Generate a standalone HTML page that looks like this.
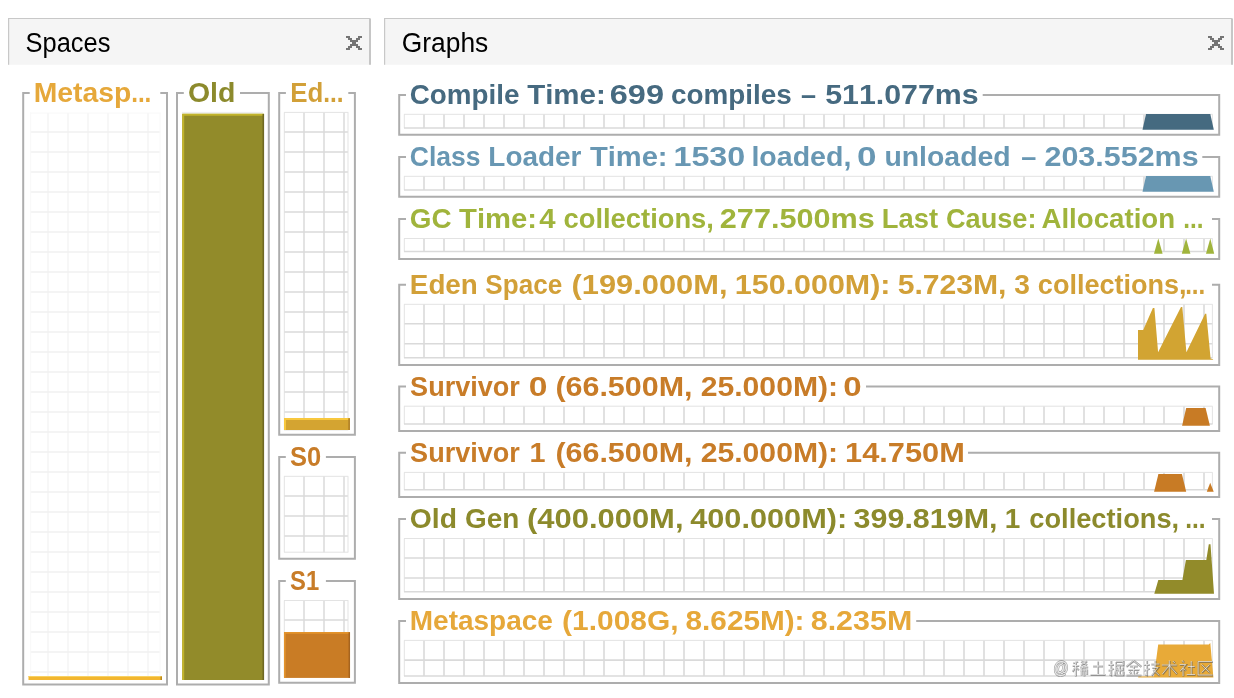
<!DOCTYPE html>
<html><head><meta charset="utf-8"><title>Visual GC</title>
<style>
html,body{margin:0;padding:0;background:#fff;}
body{width:1234px;height:698px;overflow:hidden;font-family:"Liberation Sans",sans-serif;}
svg{display:block;position:absolute;left:0;top:0;will-change:transform;}
svg text{font-family:"Liberation Sans",sans-serif;font-kerning:none;}
</style></head><body>
<svg width="1234" height="698" viewBox="0 0 1234 698">
<rect x="8" y="18" width="363" height="46.8" fill="#f5f5f5"/><path d="M8.6 64.8V18.5H370.5" stroke="#c8c8c8" stroke-width="1.2" fill="none"/><path d="M370 19V64.8" stroke="#c6c6c6" stroke-width="2" fill="none"/><text transform="translate(25.54 51.6) scale(0.9253 1)" fill="#000" font-size="27.5" font-weight="normal">Spaces</text><path d="M346 36h4v2h-4zM358 36h4v2h-4zM348 38h4v2h-4zM356 38h4v2h-4zM350 40h8v2h-8zM352 42h4v2h-4zM350 44h8v2h-8zM348 46h4v2h-4zM356 46h4v2h-4zM346 48h4v2h-4zM358 48h4v2h-4z" fill="#757575" shape-rendering="crispEdges"/>
<rect x="384" y="18" width="849" height="46.8" fill="#f5f5f5"/><path d="M384.6 64.8V18.5H1232.5" stroke="#c8c8c8" stroke-width="1.2" fill="none"/><path d="M1232 19V64.8" stroke="#c6c6c6" stroke-width="2" fill="none"/><text transform="translate(401.77 51.6) scale(0.9590 1)" fill="#000" font-size="27.5" font-weight="normal">Graphs</text><path d="M1208 36h4v2h-4zM1220 36h4v2h-4zM1210 38h4v2h-4zM1218 38h4v2h-4zM1212 40h8v2h-8zM1214 42h4v2h-4zM1212 44h8v2h-8zM1210 46h4v2h-4zM1218 46h4v2h-4zM1208 48h4v2h-4zM1220 48h4v2h-4z" fill="#757575" shape-rendering="crispEdges"/>
<path d="M29.7 93H23.2V684.5H167V93H160.3" stroke="#adadad" stroke-width="2" fill="none"/>
<text transform="translate(33.7 101.7) scale(1.0307 1)" fill="#e6a83a" font-size="27.5" font-weight="bold">Metasp</text>
<text transform="translate(131.15 101.7) scale(0.8820 1)" fill="#e6a83a" font-size="27.5" font-weight="bold">...</text>
<path d="M48 113V676M68 113V676M88 113V676M108 113V676M128 113V676M148 113V676" stroke="#f5f5f5" stroke-width="1.5" fill="none"/>
<path d="M30.5 132H160.3M30.5 152H160.3M30.5 172H160.3M30.5 192H160.3M30.5 212H160.3M30.5 232H160.3M30.5 252H160.3M30.5 272H160.3M30.5 292H160.3M30.5 312H160.3M30.5 332H160.3M30.5 352H160.3M30.5 372H160.3M30.5 392H160.3M30.5 412H160.3M30.5 432H160.3M30.5 452H160.3M30.5 472H160.3M30.5 492H160.3M30.5 512H160.3M30.5 532H160.3M30.5 552H160.3M30.5 572H160.3M30.5 592H160.3M30.5 612H160.3M30.5 632H160.3M30.5 652H160.3M30.5 672H160.3" stroke="#f1f1f1" stroke-width="1.5" fill="none"/>
<path d="M30.7 112.5V676M160 112.5V676M30.2 113H160.5" stroke="#f8f8f8" stroke-width="1" fill="none"/>
<rect x="28.5" y="676" width="133.5" height="4" fill="#f2b62f"/>
<rect x="28.5" y="676" width="133.5" height="1" fill="#f8d060"/>
<rect x="160.5" y="676.5" width="1.5" height="3.5" fill="#b98a20"/>
<path d="M183.8 93H177V684.5H268.8V93H240" stroke="#adadad" stroke-width="2" fill="none"/>
<text transform="translate(187.93 101.7) scale(1.0353 1)" fill="#8c8a2c" font-size="27.5" font-weight="bold">Old</text>
<path d="M182 112.4H263" stroke="#ececec" stroke-width="1" fill="none"/>
<rect x="182.3" y="113.8" width="81.7" height="566.2" fill="#928b2a"/>
<path d="M183.2 680V114.8H264" stroke="#c2b42c" stroke-width="2" fill="none"/>
<path d="M263.3 114V680" stroke="#6e6822" stroke-width="1.6" fill="none"/>
<path d="M285.9 93H279.2V434.8H354.9V93H348.3" stroke="#adadad" stroke-width="2" fill="none"/>
<text transform="translate(290.17 101.7) scale(0.9400 1)" fill="#d2a038" font-size="27.5" font-weight="bold">Ed</text>
<text transform="translate(323.14 101.7) scale(0.8872 1)" fill="#d2a038" font-size="27.5" font-weight="bold">...</text>
<path d="M304 112.4V430M324 112.4V430M344 112.4V430M284 132H348M284 152H348M284 172H348M284 192H348M284 212H348M284 232H348M284 252H348M284 272H348M284 292H348M284 312H348M284 332H348M284 352H348M284 372H348M284 392H348M284 412H348" stroke="#dadada" stroke-width="1.5" fill="none"/><path d="M284.3 112.4V430M348 112.4V430M284 112.4H348.3M284 430H348.3" stroke="#e3e3e3" stroke-width="1" fill="none"/>
<rect x="284" y="418" width="66" height="12" fill="#d4a431"/>
<path d="M285 430V419H350" stroke="#f8c83e" stroke-width="2" fill="none"/>
<path d="M349.1 418.3V430" stroke="#b5852a" stroke-width="1.8" fill="none"/>
<path d="M285.8 456.9H279.2V558.8H354.9V456.9H325.9" stroke="#adadad" stroke-width="2" fill="none"/>
<text transform="translate(289.97 466) scale(0.9270 1)" fill="#c87c28" font-size="27.5" font-weight="bold">S0</text>
<path d="M304 476.3V552.2M324 476.3V552.2M344 476.3V552.2M284 496H348M284 516H348M284 536H348" stroke="#dadada" stroke-width="1.5" fill="none"/><path d="M284.3 476.3V552.2M348 476.3V552.2M284 476.3H348.3M284 552.2H348.3" stroke="#e3e3e3" stroke-width="1" fill="none"/>
<path d="M285.8 581H279.2V682.8H354.9V581H325.9" stroke="#adadad" stroke-width="2" fill="none"/>
<text transform="translate(290.01 590) scale(0.8666 1)" fill="#c87c28" font-size="27.5" font-weight="bold">S1</text>
<path d="M304 600.5V677M324 600.5V677M344 600.5V677M284 620H348" stroke="#dadada" stroke-width="1.5" fill="none"/><path d="M284.3 600.5V677M348 600.5V677M284 600.5H348.3M284 677H348.3" stroke="#e3e3e3" stroke-width="1" fill="none"/>
<rect x="284" y="632" width="66" height="45.9" fill="#c97c25"/>
<path d="M284.8 677.9V632.8H350" stroke="#e3932b" stroke-width="1.7" fill="none"/>
<path d="M349.3 632.3V677.9" stroke="#a5641f" stroke-width="1.5" fill="none"/>
<path d="M406 95H399.2V134.8H1219.2V95H982.7" stroke="#adadad" stroke-width="2" fill="none"/>
<text transform="translate(409.76 103.9) scale(1.0111 1)" fill="#466a80" font-size="27.5" font-weight="bold">Compile</text>
<text transform="translate(527.17 103.9) scale(1.0726 1)" fill="#466a80" font-size="27.5" font-weight="bold">Time:</text>
<text transform="translate(609.81 103.9) scale(1.1812 1)" fill="#466a80" font-size="27.5" font-weight="bold">699</text>
<text transform="translate(671.01 103.9) scale(1.0136 1)" fill="#466a80" font-size="27.5" font-weight="bold">compiles</text>
<text transform="translate(800.88 103.9) scale(0.9842 1)" fill="#466a80" font-size="27.5" font-weight="bold">–</text>
<text transform="translate(825.17 103.9) scale(1.1037 1)" fill="#466a80" font-size="27.5" font-weight="bold">511.077ms</text>
<path d="M424 114.3V128M444 114.3V128M464 114.3V128M484 114.3V128M504 114.3V128M524 114.3V128M544 114.3V128M564 114.3V128M584 114.3V128M604 114.3V128M624 114.3V128M644 114.3V128M664 114.3V128M684 114.3V128M704 114.3V128M724 114.3V128M744 114.3V128M764 114.3V128M784 114.3V128M804 114.3V128M824 114.3V128M844 114.3V128M864 114.3V128M884 114.3V128M904 114.3V128M924 114.3V128M944 114.3V128M964 114.3V128M984 114.3V128M1004 114.3V128M1024 114.3V128M1044 114.3V128M1064 114.3V128M1084 114.3V128M1104 114.3V128M1124 114.3V128M1144 114.3V128M1164 114.3V128M1184 114.3V128M1204 114.3V128" stroke="#dadada" stroke-width="1.6" fill="none"/>
<path d="M404.3 114.3V128M1212.4 114.3V128M404 114.3H1212.6" stroke="#e3e3e3" stroke-width="1" fill="none"/>
<path d="M404 128H1212.6" stroke="#dadada" stroke-width="1.5" fill="none"/>
<polygon points="1142.5,129.7 1146,114 1210.3,114 1213.8,129.7" fill="#456a80"/>
<path d="M406 156.9H399.2V196.8H1219.2V156.9H1202.3" stroke="#adadad" stroke-width="2" fill="none"/>
<text transform="translate(409.81 165.8) scale(0.9645 1)" fill="#6897b3" font-size="27.5" font-weight="bold">Class</text>
<text transform="translate(488.33 165.8) scale(1.0153 1)" fill="#6897b3" font-size="27.5" font-weight="bold">Loader</text>
<text transform="translate(589.97 165.8) scale(1.0584 1)" fill="#6897b3" font-size="27.5" font-weight="bold">Time:</text>
<text transform="translate(673.47 165.8) scale(1.1729 1)" fill="#6897b3" font-size="27.5" font-weight="bold">1530</text>
<text transform="translate(751.41 165.8) scale(1.0389 1)" fill="#6897b3" font-size="27.5" font-weight="bold">loaded,</text>
<text transform="translate(857.11 165.8) scale(1.2769 1)" fill="#6897b3" font-size="27.5" font-weight="bold">0</text>
<text transform="translate(884.44 165.8) scale(1.0328 1)" fill="#6897b3" font-size="27.5" font-weight="bold">unloaded</text>
<text transform="translate(1021.28 165.8) scale(0.9842 1)" fill="#6897b3" font-size="27.5" font-weight="bold">–</text>
<text transform="translate(1044.44 165.8) scale(1.1089 1)" fill="#6897b3" font-size="27.5" font-weight="bold">203.552ms</text>
<path d="M424 176.3V189.9M444 176.3V189.9M464 176.3V189.9M484 176.3V189.9M504 176.3V189.9M524 176.3V189.9M544 176.3V189.9M564 176.3V189.9M584 176.3V189.9M604 176.3V189.9M624 176.3V189.9M644 176.3V189.9M664 176.3V189.9M684 176.3V189.9M704 176.3V189.9M724 176.3V189.9M744 176.3V189.9M764 176.3V189.9M784 176.3V189.9M804 176.3V189.9M824 176.3V189.9M844 176.3V189.9M864 176.3V189.9M884 176.3V189.9M904 176.3V189.9M924 176.3V189.9M944 176.3V189.9M964 176.3V189.9M984 176.3V189.9M1004 176.3V189.9M1024 176.3V189.9M1044 176.3V189.9M1064 176.3V189.9M1084 176.3V189.9M1104 176.3V189.9M1124 176.3V189.9M1144 176.3V189.9M1164 176.3V189.9M1184 176.3V189.9M1204 176.3V189.9" stroke="#dadada" stroke-width="1.6" fill="none"/>
<path d="M404.3 176.3V189.9M1212.4 176.3V189.9M404 176.3H1212.6" stroke="#e3e3e3" stroke-width="1" fill="none"/>
<path d="M404 189.9H1212.6" stroke="#dadada" stroke-width="1.5" fill="none"/>
<polygon points="1142.5,191.7 1146,176 1210.3,176 1213.8,191.7" fill="#6897b2"/>
<path d="M406 219.1H399.2V258.9H1219.2V219.1H1212" stroke="#adadad" stroke-width="2" fill="none"/>
<text transform="translate(409.76 228) scale(1.0135 1)" fill="#a0b43c" font-size="27.5" font-weight="bold">GC</text>
<text transform="translate(459.07 228) scale(1.0627 1)" fill="#a0b43c" font-size="27.5" font-weight="bold">Time:</text>
<text transform="translate(539.16 228) scale(1.0658 1)" fill="#a0b43c" font-size="27.5" font-weight="bold">4</text>
<text transform="translate(563.53 228) scale(0.9948 1)" fill="#a0b43c" font-size="27.5" font-weight="bold">collections,</text>
<text transform="translate(719.84 228) scale(1.1140 1)" fill="#a0b43c" font-size="27.5" font-weight="bold">277.500ms</text>
<text transform="translate(881.77 228) scale(0.9951 1)" fill="#a0b43c" font-size="27.5" font-weight="bold">Last</text>
<text transform="translate(945.99 228) scale(0.9872 1)" fill="#a0b43c" font-size="27.5" font-weight="bold">Cause:</text>
<text transform="translate(1041.41 228) scale(1.0067 1)" fill="#a0b43c" font-size="27.5" font-weight="bold">Allocation</text>
<text transform="translate(1183.25 228) scale(0.8820 1)" fill="#a0b43c" font-size="27.5" font-weight="bold">...</text>
<path d="M424 238.5V251.6M444 238.5V251.6M464 238.5V251.6M484 238.5V251.6M504 238.5V251.6M524 238.5V251.6M544 238.5V251.6M564 238.5V251.6M584 238.5V251.6M604 238.5V251.6M624 238.5V251.6M644 238.5V251.6M664 238.5V251.6M684 238.5V251.6M704 238.5V251.6M724 238.5V251.6M744 238.5V251.6M764 238.5V251.6M784 238.5V251.6M804 238.5V251.6M824 238.5V251.6M844 238.5V251.6M864 238.5V251.6M884 238.5V251.6M904 238.5V251.6M924 238.5V251.6M944 238.5V251.6M964 238.5V251.6M984 238.5V251.6M1004 238.5V251.6M1024 238.5V251.6M1044 238.5V251.6M1064 238.5V251.6M1084 238.5V251.6M1104 238.5V251.6M1124 238.5V251.6M1144 238.5V251.6M1164 238.5V251.6M1184 238.5V251.6M1204 238.5V251.6" stroke="#dadada" stroke-width="1.6" fill="none"/>
<path d="M404.3 238.5V251.6M1212.4 238.5V251.6M404 238.5H1212.6" stroke="#e3e3e3" stroke-width="1" fill="none"/>
<path d="M404 251.6H1212.6" stroke="#dadada" stroke-width="1.5" fill="none"/>
<polygon points="1154,253.7 1158.3,238.4 1162.6,253.7" fill="#a0b43c"/>
<polygon points="1181.8,253.7 1186.1,238.4 1190.4,253.7" fill="#a0b43c"/>
<polygon points="1206,253.7 1210.3,238.4 1214.2,253.7" fill="#a0b43c"/>
<path d="M406 284.8H399.2V365H1219.2V284.8H1212" stroke="#adadad" stroke-width="2" fill="none"/>
<text transform="translate(409.84 293.7) scale(1.0112 1)" fill="#d2a038" font-size="27.5" font-weight="bold">Eden</text>
<text transform="translate(485.35 293.7) scale(0.9484 1)" fill="#d2a038" font-size="27.5" font-weight="bold">Space</text>
<text transform="translate(571.46 293.7) scale(1.1221 1)" fill="#d2a038" font-size="27.5" font-weight="bold">(199.000M,</text>
<text transform="translate(734.78 293.7) scale(1.1075 1)" fill="#d2a038" font-size="27.5" font-weight="bold">150.000M):</text>
<text transform="translate(897.67 293.7) scale(1.0954 1)" fill="#d2a038" font-size="27.5" font-weight="bold">5.723M,</text>
<text transform="translate(1014.35 293.7) scale(1.0242 1)" fill="#d2a038" font-size="27.5" font-weight="bold">3</text>
<text transform="translate(1037.84 293.7) scale(0.9840 1)" fill="#d2a038" font-size="27.5" font-weight="bold">collections,</text>
<text transform="translate(1185.16 293.7) scale(0.8768 1)" fill="#d2a038" font-size="27.5" font-weight="bold">...</text>
<path d="M424 304.3V357.7M444 304.3V357.7M464 304.3V357.7M484 304.3V357.7M504 304.3V357.7M524 304.3V357.7M544 304.3V357.7M564 304.3V357.7M584 304.3V357.7M604 304.3V357.7M624 304.3V357.7M644 304.3V357.7M664 304.3V357.7M684 304.3V357.7M704 304.3V357.7M724 304.3V357.7M744 304.3V357.7M764 304.3V357.7M784 304.3V357.7M804 304.3V357.7M824 304.3V357.7M844 304.3V357.7M864 304.3V357.7M884 304.3V357.7M904 304.3V357.7M924 304.3V357.7M944 304.3V357.7M964 304.3V357.7M984 304.3V357.7M1004 304.3V357.7M1024 304.3V357.7M1044 304.3V357.7M1064 304.3V357.7M1084 304.3V357.7M1104 304.3V357.7M1124 304.3V357.7M1144 304.3V357.7M1164 304.3V357.7M1184 304.3V357.7M1204 304.3V357.7M404 323.8H1212.5M404 343.8H1212.5" stroke="#dadada" stroke-width="1.6" fill="none"/>
<path d="M404.3 304.3V357.7M1212.4 304.3V357.7M404 304.3H1212.6" stroke="#e3e3e3" stroke-width="1" fill="none"/>
<path d="M404 357.7H1212.6" stroke="#dadada" stroke-width="1.5" fill="none"/>
<polygon points="1138,359.7 1138,330.05 1143.2,330.05 1152.9,308 1154.4,308 1158.1,352.2 1181,306.9 1182.3,306.9 1186.4,352.2 1205.1,313.8 1206.3,313.8 1210.6,358.6 1213.1,359.2 1213.1,359.7" fill="#d2a432"/>
<path d="M406 386.6H399.2V430.9H1219.2V386.6H866" stroke="#adadad" stroke-width="2" fill="none"/>
<text transform="translate(410.12 395.5) scale(0.9840 1)" fill="#c87c28" font-size="27.5" font-weight="bold">Survivor</text>
<text transform="translate(528.87 395.5) scale(1.2234 1)" fill="#c87c28" font-size="27.5" font-weight="bold">0</text>
<text transform="translate(555.38 395.5) scale(1.1077 1)" fill="#c87c28" font-size="27.5" font-weight="bold">(66.500M,</text>
<text transform="translate(700.65 395.5) scale(1.0975 1)" fill="#c87c28" font-size="27.5" font-weight="bold">25.000M):</text>
<text transform="translate(843.29 395.5) scale(1.2004 1)" fill="#c87c28" font-size="27.5" font-weight="bold">0</text>
<path d="M424 406.2V424M444 406.2V424M464 406.2V424M484 406.2V424M504 406.2V424M524 406.2V424M544 406.2V424M564 406.2V424M584 406.2V424M604 406.2V424M624 406.2V424M644 406.2V424M664 406.2V424M684 406.2V424M704 406.2V424M724 406.2V424M744 406.2V424M764 406.2V424M784 406.2V424M804 406.2V424M824 406.2V424M844 406.2V424M864 406.2V424M884 406.2V424M904 406.2V424M924 406.2V424M944 406.2V424M964 406.2V424M984 406.2V424M1004 406.2V424M1024 406.2V424M1044 406.2V424M1064 406.2V424M1084 406.2V424M1104 406.2V424M1124 406.2V424M1144 406.2V424M1164 406.2V424M1184 406.2V424M1204 406.2V424" stroke="#dadada" stroke-width="1.6" fill="none"/>
<path d="M404.3 406.2V424M1212.4 406.2V424M404 406.2H1212.6" stroke="#e3e3e3" stroke-width="1" fill="none"/>
<path d="M404 424H1212.6" stroke="#dadada" stroke-width="1.5" fill="none"/>
<polygon points="1182.1,425.8 1186.2,408 1205.6,408 1209.9,425.8" fill="#c87b25"/>
<path d="M406 452.7H399.2V497H1219.2V452.7H968" stroke="#adadad" stroke-width="2" fill="none"/>
<text transform="translate(410.12 461.6) scale(0.9840 1)" fill="#c87c28" font-size="27.5" font-weight="bold">Survivor</text>
<text transform="translate(529.39 461.6) scale(1.0472 1)" fill="#c87c28" font-size="27.5" font-weight="bold">1</text>
<text transform="translate(555.38 461.6) scale(1.1077 1)" fill="#c87c28" font-size="27.5" font-weight="bold">(66.500M,</text>
<text transform="translate(700.65 461.6) scale(1.0975 1)" fill="#c87c28" font-size="27.5" font-weight="bold">25.000M):</text>
<text transform="translate(845.06 461.6) scale(1.1194 1)" fill="#c87c28" font-size="27.5" font-weight="bold">14.750M</text>
<path d="M424 472.4V489.8M444 472.4V489.8M464 472.4V489.8M484 472.4V489.8M504 472.4V489.8M524 472.4V489.8M544 472.4V489.8M564 472.4V489.8M584 472.4V489.8M604 472.4V489.8M624 472.4V489.8M644 472.4V489.8M664 472.4V489.8M684 472.4V489.8M704 472.4V489.8M724 472.4V489.8M744 472.4V489.8M764 472.4V489.8M784 472.4V489.8M804 472.4V489.8M824 472.4V489.8M844 472.4V489.8M864 472.4V489.8M884 472.4V489.8M904 472.4V489.8M924 472.4V489.8M944 472.4V489.8M964 472.4V489.8M984 472.4V489.8M1004 472.4V489.8M1024 472.4V489.8M1044 472.4V489.8M1064 472.4V489.8M1084 472.4V489.8M1104 472.4V489.8M1124 472.4V489.8M1144 472.4V489.8M1164 472.4V489.8M1184 472.4V489.8M1204 472.4V489.8" stroke="#dadada" stroke-width="1.6" fill="none"/>
<path d="M404.3 472.4V489.8M1212.4 472.4V489.8M404 472.4H1212.6" stroke="#e3e3e3" stroke-width="1" fill="none"/>
<path d="M404 489.8H1212.6" stroke="#dadada" stroke-width="1.5" fill="none"/>
<polygon points="1154.1,491.8 1158.4,474.1 1181.9,474.1 1186.2,491.8" fill="#c87b25"/>
<polygon points="1206.8,491.8 1210.2,482.8 1213.7,491.8" fill="#c87b25"/>
<path d="M406 519H399.2V599.1H1219.2V519H1212" stroke="#adadad" stroke-width="2" fill="none"/>
<text transform="translate(409.74 527.9) scale(1.0306 1)" fill="#8c8a2c" font-size="27.5" font-weight="bold">Old</text>
<text transform="translate(464.96 527.9) scale(1.0148 1)" fill="#8c8a2c" font-size="27.5" font-weight="bold">Gen</text>
<text transform="translate(526.96 527.9) scale(1.1258 1)" fill="#8c8a2c" font-size="27.5" font-weight="bold">(400.000M,</text>
<text transform="translate(690.24 527.9) scale(1.1165 1)" fill="#8c8a2c" font-size="27.5" font-weight="bold">400.000M):</text>
<text transform="translate(853.6 527.9) scale(1.1076 1)" fill="#8c8a2c" font-size="27.5" font-weight="bold">399.819M,</text>
<text transform="translate(1004.74 527.9) scale(1.0159 1)" fill="#8c8a2c" font-size="27.5" font-weight="bold">1</text>
<text transform="translate(1029.34 527.9) scale(0.9900 1)" fill="#8c8a2c" font-size="27.5" font-weight="bold">collections,</text>
<text transform="translate(1185.14 527.9) scale(0.8872 1)" fill="#8c8a2c" font-size="27.5" font-weight="bold">...</text>
<path d="M424 538.5V591.7M444 538.5V591.7M464 538.5V591.7M484 538.5V591.7M504 538.5V591.7M524 538.5V591.7M544 538.5V591.7M564 538.5V591.7M584 538.5V591.7M604 538.5V591.7M624 538.5V591.7M644 538.5V591.7M664 538.5V591.7M684 538.5V591.7M704 538.5V591.7M724 538.5V591.7M744 538.5V591.7M764 538.5V591.7M784 538.5V591.7M804 538.5V591.7M824 538.5V591.7M844 538.5V591.7M864 538.5V591.7M884 538.5V591.7M904 538.5V591.7M924 538.5V591.7M944 538.5V591.7M964 538.5V591.7M984 538.5V591.7M1004 538.5V591.7M1024 538.5V591.7M1044 538.5V591.7M1064 538.5V591.7M1084 538.5V591.7M1104 538.5V591.7M1124 538.5V591.7M1144 538.5V591.7M1164 538.5V591.7M1184 538.5V591.7M1204 538.5V591.7M404 558H1212.5M404 578H1212.5" stroke="#dadada" stroke-width="1.6" fill="none"/>
<path d="M404.3 538.5V591.7M1212.4 538.5V591.7M404 538.5H1212.6" stroke="#e3e3e3" stroke-width="1" fill="none"/>
<path d="M404 591.7H1212.6" stroke="#dadada" stroke-width="1.5" fill="none"/>
<polygon points="1154.3,593.7 1158.3,580.1 1182.4,580.1 1185.9,560 1206.3,560 1208.8,544.3 1210.5,544.3 1214,593.7" fill="#928b2a"/>
<path d="M406 621H399.2V683H1219.2V621H916.2" stroke="#adadad" stroke-width="2" fill="none"/>
<text transform="translate(409.83 629.9) scale(1.0171 1)" fill="#e6a83a" font-size="27.5" font-weight="bold">Metaspace</text>
<text transform="translate(562.11 629.9) scale(1.0877 1)" fill="#e6a83a" font-size="27.5" font-weight="bold">(1.008G,</text>
<text transform="translate(685.56 629.9) scale(1.0815 1)" fill="#e6a83a" font-size="27.5" font-weight="bold">8.625M):</text>
<text transform="translate(810.73 629.9) scale(1.1066 1)" fill="#e6a83a" font-size="27.5" font-weight="bold">8.235M</text>
<path d="M424 640.4V675.9M444 640.4V675.9M464 640.4V675.9M484 640.4V675.9M504 640.4V675.9M524 640.4V675.9M544 640.4V675.9M564 640.4V675.9M584 640.4V675.9M604 640.4V675.9M624 640.4V675.9M644 640.4V675.9M664 640.4V675.9M684 640.4V675.9M704 640.4V675.9M724 640.4V675.9M744 640.4V675.9M764 640.4V675.9M784 640.4V675.9M804 640.4V675.9M824 640.4V675.9M844 640.4V675.9M864 640.4V675.9M884 640.4V675.9M904 640.4V675.9M924 640.4V675.9M944 640.4V675.9M964 640.4V675.9M984 640.4V675.9M1004 640.4V675.9M1024 640.4V675.9M1044 640.4V675.9M1064 640.4V675.9M1084 640.4V675.9M1104 640.4V675.9M1124 640.4V675.9M1144 640.4V675.9M1164 640.4V675.9M1184 640.4V675.9M1204 640.4V675.9M404 660.1H1212.5" stroke="#dadada" stroke-width="1.6" fill="none"/>
<path d="M404.3 640.4V675.9M1212.4 640.4V675.9M404 640.4H1212.6" stroke="#e3e3e3" stroke-width="1" fill="none"/>
<path d="M404 675.9H1212.6" stroke="#dadada" stroke-width="1.5" fill="none"/>
<polygon points="1138.2,677.5 1138.2,676.6 1154,676.3 1158.2,644.5 1208.7,644.5 1210.3,642.9 1213.4,677.5" fill="#e8aa38"/>
<g><path d="M1072.8 663.0L1077.8 661.5M1072.3 665.5L1078.8 665.5M1075.5 662.5L1075.5 676.0M1075.5 666.5L1072.3 671.5M1075.5 667.0L1078.6 670.0M1080.8 661.0L1086.8 665.0M1086.8 661.0L1080.8 665.0M1079.8 667.0L1087.8 667.0M1083.3 665.5L1080.3 671.0M1081.3 670.0L1081.3 675.0M1081.3 670.0L1086.8 670.0L1086.8 674.5M1084.1 667.5L1084.1 676.0M1092.7 666.0L1102.7 666.0M1097.7 661.0L1097.7 674.5M1090.2 674.5L1105.2 674.5M1108.1 664.5L1113.6 664.5M1110.9 660.5L1110.9 675.0L1109.1 674.0M1108.1 670.5L1113.6 668.5M1115.6 661.5L1123.1 661.5L1123.1 665.0L1115.6 665.0M1115.6 661.5L1115.6 670.0L1114.1 675.5M1119.6 666.0L1119.6 675.0M1116.9 667.0L1116.9 670.0L1122.4 670.0L1122.4 667.0M1116.3 671.5L1116.3 675.0L1123.1 675.0L1123.1 671.5M1133.5 660.5L1126.0 666.5M1133.5 660.5L1141.0 666.5M1129.5 666.0L1137.5 666.0M1128.0 669.5L1139.0 669.5M1133.5 666.0L1133.5 675.0M1129.5 671.0L1131.0 673.5M1137.5 671.0L1136.0 673.5M1126.0 675.0L1141.0 675.0M1143.9 664.5L1149.4 664.5M1146.7 660.5L1146.7 675.0L1144.9 674.0M1143.9 670.5L1149.4 668.5M1150.9 664.0L1159.4 664.0M1155.1 660.5L1155.1 667.5M1151.9 667.5L1157.9 667.5L1151.4 675.5M1152.9 669.5L1159.4 675.5M1161.8 665.0L1176.8 665.0M1169.3 660.5L1169.3 676.0M1169.3 665.5L1162.3 674.0M1169.3 665.5L1176.8 674.0M1172.8 661.0L1174.8 663.0M1182.2 660.5L1183.7 662.5M1179.7 664.5L1185.7 664.5L1180.2 671.0M1183.0 668.0L1183.0 676.0M1183.7 668.5L1185.7 670.5M1187.7 666.5L1194.7 666.5M1191.2 661.0L1191.2 674.5M1186.7 674.5L1195.2 674.5M1212.6 661.5L1198.1 661.5L1198.1 675.0L1212.6 675.0M1201.6 664.5L1209.6 672.5M1209.6 664.5L1201.6 672.5" transform="translate(0.4 0.4)" stroke="#5a5a5a" stroke-opacity="0.6" stroke-width="2" fill="none"/><path d="M1072.8 663.0L1077.8 661.5M1072.3 665.5L1078.8 665.5M1075.5 662.5L1075.5 676.0M1075.5 666.5L1072.3 671.5M1075.5 667.0L1078.6 670.0M1080.8 661.0L1086.8 665.0M1086.8 661.0L1080.8 665.0M1079.8 667.0L1087.8 667.0M1083.3 665.5L1080.3 671.0M1081.3 670.0L1081.3 675.0M1081.3 670.0L1086.8 670.0L1086.8 674.5M1084.1 667.5L1084.1 676.0M1092.7 666.0L1102.7 666.0M1097.7 661.0L1097.7 674.5M1090.2 674.5L1105.2 674.5M1108.1 664.5L1113.6 664.5M1110.9 660.5L1110.9 675.0L1109.1 674.0M1108.1 670.5L1113.6 668.5M1115.6 661.5L1123.1 661.5L1123.1 665.0L1115.6 665.0M1115.6 661.5L1115.6 670.0L1114.1 675.5M1119.6 666.0L1119.6 675.0M1116.9 667.0L1116.9 670.0L1122.4 670.0L1122.4 667.0M1116.3 671.5L1116.3 675.0L1123.1 675.0L1123.1 671.5M1133.5 660.5L1126.0 666.5M1133.5 660.5L1141.0 666.5M1129.5 666.0L1137.5 666.0M1128.0 669.5L1139.0 669.5M1133.5 666.0L1133.5 675.0M1129.5 671.0L1131.0 673.5M1137.5 671.0L1136.0 673.5M1126.0 675.0L1141.0 675.0M1143.9 664.5L1149.4 664.5M1146.7 660.5L1146.7 675.0L1144.9 674.0M1143.9 670.5L1149.4 668.5M1150.9 664.0L1159.4 664.0M1155.1 660.5L1155.1 667.5M1151.9 667.5L1157.9 667.5L1151.4 675.5M1152.9 669.5L1159.4 675.5M1161.8 665.0L1176.8 665.0M1169.3 660.5L1169.3 676.0M1169.3 665.5L1162.3 674.0M1169.3 665.5L1176.8 674.0M1172.8 661.0L1174.8 663.0M1182.2 660.5L1183.7 662.5M1179.7 664.5L1185.7 664.5L1180.2 671.0M1183.0 668.0L1183.0 676.0M1183.7 668.5L1185.7 670.5M1187.7 666.5L1194.7 666.5M1191.2 661.0L1191.2 674.5M1186.7 674.5L1195.2 674.5M1212.6 661.5L1198.1 661.5L1198.1 675.0L1212.6 675.0M1201.6 664.5L1209.6 672.5M1209.6 664.5L1201.6 672.5" stroke="#fff" stroke-opacity="0.8" stroke-width="0.8" fill="none"/><text transform="translate(1053.3 674.4) scale(0.8 1)" font-size="19" fill="#fff" fill-opacity="0.8" stroke="#5a5a5a" stroke-opacity="0.6" stroke-width="1.4" style="paint-order:stroke">@</text></g>
</svg>
</body></html>
